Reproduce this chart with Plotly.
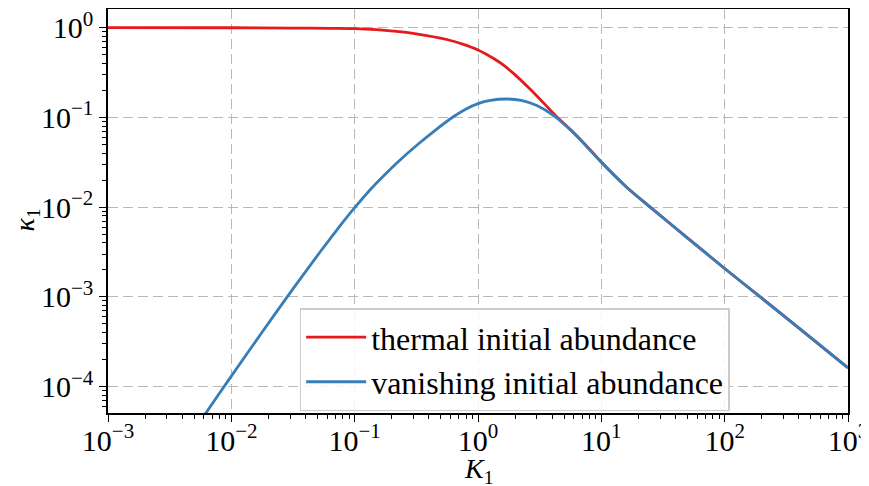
import plotly.graph_objects as go

# K_1 values and read-off kappa_1 for the thermal initial abundance curve
K_thermal = [0.001, 0.01, 0.0316, 0.063, 0.1, 0.219, 0.316, 0.558, 0.75, 1.0, 1.33,
             1.61, 2.0, 2.64, 3.39, 4.37, 5.62, 7.5, 10, 15.8, 24.9, 50.1, 100, 194,
             398, 1000]
kappa_thermal = [1.0, 0.998, 0.989, 0.982, 0.975, 0.910, 0.855, 0.738, 0.656, 0.565,
                 0.456, 0.382, 0.298, 0.207, 0.1455, 0.1012, 0.0733, 0.0490, 0.0318,
                 0.0170, 0.0100, 0.00452, 0.00207, 0.00100, 0.000452, 0.000162]

# K_1 values and read-off kappa_1 for the vanishing initial abundance curve
K_vanishing = [0.003, 0.00612, 0.01, 0.0178, 0.0281, 0.0384, 0.0524, 0.0716, 0.1,
               0.133, 0.182, 0.248, 0.328, 0.447, 0.631, 0.794, 1.0, 1.26, 1.71, 2.24,
               3.0, 4.22, 5.62, 7.5, 10, 15.8, 24.9, 50.1, 100, 194, 398, 1000]
kappa_vanishing = [1.16e-5, 4.92e-5, 1.31e-4, 4.06e-4, 9.82e-4, 1.77e-3, 3.16e-3,
                   5.56e-3, 9.86e-3, 0.01554, 0.0242, 0.0362, 0.0506, 0.0714, 0.1016,
                   0.1236, 0.1426, 0.1549, 0.1603, 0.1549, 0.1355, 0.1023, 0.0724,
                   0.0484, 0.0316, 0.0170, 0.0100, 0.00452, 0.00207, 0.00100,
                   0.000452, 0.000162]

x_tick_vals = [1e-3, 1e-2, 1e-1, 1e0, 1e1, 1e2, 1e3]
x_tick_text = ["10<sup>−3</sup>", "10<sup>−2</sup>", "10<sup>−1</sup>", "10<sup>0</sup>",
               "10<sup>1</sup>", "10<sup>2</sup>", "10<sup>3</sup>"]
y_tick_vals = [1e-4, 1e-3, 1e-2, 1e-1, 1e0]
y_tick_text = ["10<sup>−4</sup>", "10<sup>−3</sup>", "10<sup>−2</sup>", "10<sup>−1</sup>", "10<sup>0</sup>"]

RED = "#e41a1c"
BLUE = "#377eb8"
FONT = "Liberation Serif, DejaVu Serif, serif"

fig = go.Figure()
fig.add_trace(go.Scatter(x=K_thermal, y=kappa_thermal, mode="lines",
                         line=dict(color=RED, width=2.8, shape="spline", smoothing=0.8),
                         name="thermal initial abundance"))
fig.add_trace(go.Scatter(x=K_vanishing, y=kappa_vanishing, mode="lines",
                         line=dict(color=BLUE, width=2.8, shape="spline", smoothing=0.8),
                         name="vanishing initial abundance"))

minor_x = [m * 10**e for e in range(-3, 3) for m in range(2, 10)]
minor_y = [m * 10**e for e in range(-5, 1) for m in range(2, 10)]

axis_common = dict(
    type="log",
    showline=True, linecolor="black", linewidth=1.5, mirror=True,
    ticks="outside", ticklen=7, tickwidth=1.2, tickcolor="black",
    showgrid=True, gridcolor="#b8b8b8", griddash="10px,5px", gridwidth=1,
    zeroline=False, ticklabeloverflow="allow",
    tickfont=dict(family=FONT, size=30, color="black"),
)

fig.update_xaxes(**axis_common, range=[-3, 3], tickmode="array",
                 tickvals=x_tick_vals, ticktext=x_tick_text, ticklabelstandoff=-7,
                 minor=dict(tickmode="array", tickvals=minor_x, ticks="outside",
                            ticklen=4, tickwidth=1, tickcolor="black", showgrid=False))
fig.update_yaxes(**axis_common, range=[-4.294, 0.208], tickmode="array",
                 tickvals=y_tick_vals, ticktext=y_tick_text,
                 minor=dict(tickmode="array", tickvals=minor_y, ticks="outside",
                            ticklen=4, tickwidth=1, tickcolor="black", showgrid=False))

fig.add_annotation(text="<i>K</i><sub>1</sub>", xref="paper", yref="paper",
                   x=0.5, y=-0.142, xanchor="center", yanchor="middle", showarrow=False,
                   font=dict(family=FONT, size=28, color="black"))
fig.add_annotation(text="<i>κ</i><sub>1</sub>", xref="paper", yref="paper",
                   x=-0.11, y=0.478, xanchor="center", yanchor="middle", showarrow=False,
                   textangle=-90, font=dict(family=FONT, size=28, color="black"))

fig.update_layout(
    width=861, height=478,
    margin=dict(l=100, r=21, t=1, b=73, autoexpand=False),
    paper_bgcolor="white", plot_bgcolor="white",
    font=dict(family=FONT, color="black"),
    showlegend=True,
    legend=dict(x=0.259, y=0.259, xanchor="left", yanchor="top",
                bgcolor="rgba(255,255,255,0.85)", bordercolor="#cccccc", borderwidth=1.5,
                font=dict(family=FONT, size=32, color="black"),
                itemwidth=60, tracegroupgap=0),
)

fig.write_html("out.html")
